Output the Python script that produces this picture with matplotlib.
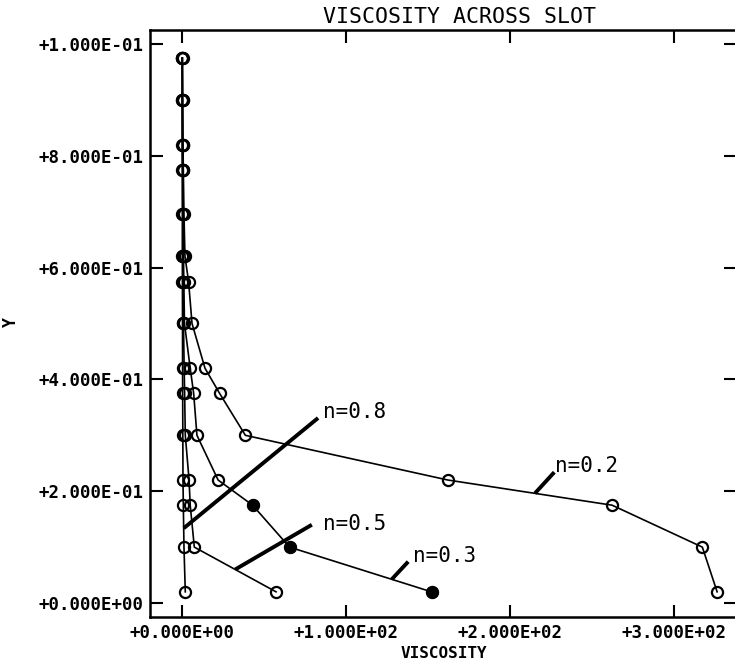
import numpy as np
import matplotlib
matplotlib.use("Agg")
from matplotlib import pyplot as plt

# y positions across the slot (bottom to top)
y_pos = [0.02, 0.1, 0.175, 0.22, 0.3, 0.375, 0.42, 0.5, 0.575, 0.62, 0.695, 0.775, 0.82, 0.9, 0.975]

# viscosity for each power-law index
visc_n02 = [326, 317, 262, 162, 38.6, 22.9, 14.0, 6.1, 4.0, 1.8, 1.2, 0.8, 0.6, 0.4, 0.3]
visc_n03 = [152, 65.5, 43, 22, 9.1, 7.1, 5.0, 1.5, 1.1, 0.9, 0.7, 0.5, 0.4, 0.3, 0.2]
visc_n05 = [57.3, 7.5, 5.0, 4.3, 2.0, 1.6, 1.3, 0.9, 0.7, 0.6, 0.5, 0.4, 0.3, 0.2, 0.1]
visc_n08 = [2.0, 1.2, 0.8, 0.6, 0.5, 0.4, 0.35, 0.3, 0.25, 0.2, 0.2, 0.15, 0.1, 0.1, 0.1]

labels = ["n=0.2", "n=0.3", "n=0.5", "n=0.8"]

x_ticks = [0, 100, 200, 300]
x_ticklabels = ["+0.000E+00", "+1.000E+02", "+2.000E+02", "+3.000E+02"]
y_ticks = [0.0, 0.2, 0.4, 0.6, 0.8, 1.0]
y_ticklabels = ["+0.000E+00", "+2.000E-01", "+4.000E-01", "+6.000E-01", "+8.000E-01", "+1.000E-01"]

FONT = "DejaVu Sans Mono"

fig = plt.figure(figsize=(7.35, 6.63), dpi=100)
ax = fig.add_axes([150 / 735, 46 / 663, 586 / 735, 587 / 663])

series = [visc_n02, visc_n03, visc_n05, visc_n08]
for vals in series:
    ax.plot(vals, y_pos, color="black", lw=1.2, marker="o", ms=8,
            mfc="none", mec="black", mew=1.6, zorder=3)

# the darker (filled looking) markers on the n=0.3 curve
filled_idx = [0, 1, 2]
ax.plot([visc_n03[i] for i in filled_idx], [y_pos[i] for i in filled_idx],
        ls="none", marker="o", ms=8, mfc="black", mec="black", zorder=4)

# label pointers: series, segment index, fraction along segment, pointer start, text pos
pointers = [
    (visc_n02, 2, 0.47, (226.8, 0.234), (227.5, 0.234)),
    (visc_n03, 0, 0.28, (137.8, 0.074), (141.0, 0.073)),
    (visc_n05, 0, 0.50, (79.1, 0.140), (86.0, 0.131)),
    (visc_n08, 1, 0.45, (82.9, 0.331), (86.0, 0.331)),
]
for lab, (vals, i, t, start, txt) in zip(labels, pointers):
    tx = vals[i] + t * (vals[i + 1] - vals[i])
    ty = y_pos[i] + t * (y_pos[i + 1] - y_pos[i])
    ax.plot([tx, start[0]], [ty, start[1]], color="black", lw=2.8, zorder=2,
            solid_capstyle="butt")
    ax.text(txt[0], txt[1], lab, family=FONT, fontsize=15, va="baseline", ha="left")

ax.set_xlim(-19.5, 337.5)
ax.set_ylim(-0.025, 1.025)
ax.set_xticks(x_ticks)
ax.set_xticklabels(x_ticklabels, family=FONT, fontsize=12.5, fontweight="bold")
ax.set_yticks(y_ticks)
ax.set_yticklabels(y_ticklabels, family=FONT, fontsize=12.5, fontweight="bold")
ax.tick_params(direction="in", length=9, width=1.5, top=True, right=True, pad=5)
for sp in ax.spines.values():
    sp.set_linewidth(1.8)

fig.text(459 / 735, 1 - 17 / 663, "VISCOSITY ACROSS SLOT", family=FONT, fontsize=15.5,
         ha="center", va="center")
fig.text(444 / 735, 1 - 654 / 663, "VISCOSITY", family=FONT, fontsize=11.5,
         fontweight="bold", ha="center", va="center")
fig.text(11 / 735, 1 - 322 / 663, "Y", family=FONT, fontsize=12, fontweight="bold",
         rotation=90, ha="center", va="center")

fig.savefig("out.png", dpi=100)
